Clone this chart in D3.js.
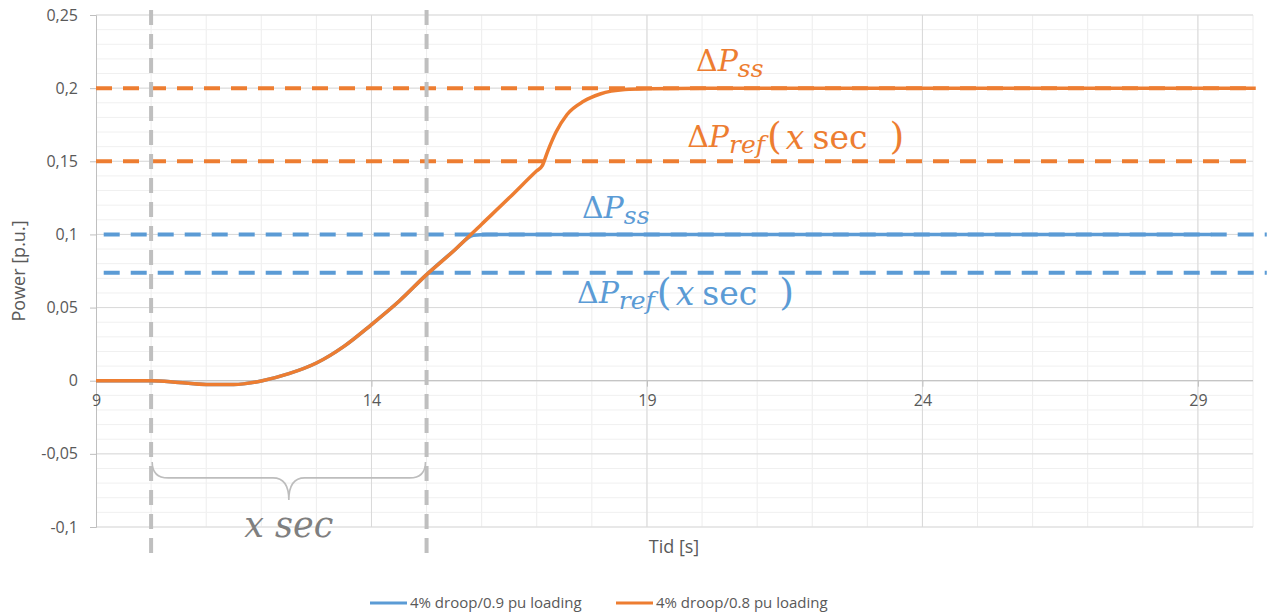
<!DOCTYPE html>
<html>
<head>
<meta charset="utf-8">
<script src="https://cdn.jsdelivr.net/npm/d3@7"></script>
<style>
  html, body { margin: 0; padding: 0; background: #fff; }
  svg { display: block; }
  text { font-family: "Open Sans", "Noto Sans", sans-serif; }
  .math { font-family: "DejaVu Serif", serif; }
</style>
</head>
<body>
<svg id="chart" width="1269" height="615"></svg>
<script>
// ---------------- DATA ----------------
const xTicks = [9, 14, 19, 24, 29];
const yTicks = [-0.1, -0.05, 0, 0.05, 0.1, 0.15, 0.2, 0.25];
const yTickLabels = ["-0,1", "-0,05", "0", "0,05", "0,1", "0,15", "0,2", "0,25"];

const seriesNames = ["4% droop/0.9 pu loading", "4% droop/0.8 pu loading"];
const seriesColors = ["#5B9BD5", "#ED7D31"];

// 4% droop / 0.8 pu loading (orange)
const tOrange = [9, 10, 10.5, 11, 11.5, 12, 12.5, 13, 13.5, 14, 14.5, 15, 15.5, 16, 16.5, 17, 17.1, 17.2, 17.35, 17.55, 17.85, 18.15, 18.6, 19.05, 20, 25, 30.05];
const pOrange = [0, 0, -0.0012, -0.0026, -0.0026, -0.0002, 0.0048, 0.0121, 0.0235, 0.0384, 0.0543, 0.0725, 0.089, 0.107, 0.125, 0.1435, 0.147, 0.157, 0.17, 0.182, 0.191, 0.196, 0.199, 0.1996, 0.2, 0.2, 0.2];

// 4% droop / 0.9 pu loading (blue)
const tBlue = [9, 10, 10.5, 11, 11.5, 12, 12.5, 13, 13.5, 14, 14.5, 15, 15.5, 15.85, 16.1, 20, 25, 29.25];
const pBlue = [0, 0, -0.0012, -0.0026, -0.0026, -0.0002, 0.0048, 0.0121, 0.0235, 0.0384, 0.0543, 0.0725, 0.089, 0.0995, 0.1, 0.1, 0.1, 0.1];

// dashed reference levels
const refLevels = [0.2, 0.15, 0.1, 0.0738];
const refSeries = [1, 1, 0, 0];
const refStart = [9, 9, 9.14, 9.14];
const refEnd = [30, 30, 30.25, 30.25];

// vertical markers (x sec window)
const markerTimes = [10, 15];
const markerSpan = [-0.1205, 0.2534];

// annotations
const annoSeries = [1, 1, 0, 0];
const annoSub = ["ss", "ref", "ss", "ref"];
const annoT = [19.89, 19.73, 17.82, 17.73];
const annoP = [0.2116, 0.1596, 0.111, 0.0534];

// brace
const braceT = [10.02, 14.98];
const braceP = [-0.0555, -0.0664, -0.0815];
const braceLabel = "x sec";
const braceLabelP = -0.1068;

// ---------------- CHART ----------------
const svg = d3.select("#chart");
const x = d3.scaleLinear().domain([9, 30]).range([96, 1253]);
const y = d3.scaleLinear().domain([-0.1, 0.25]).range([527, 15]);

// minor gridlines
const g = svg.append("g");
g.selectAll("line.vmin").data(d3.range(10, 31)).enter().append("line")
  .attr("x1", d => x(d)).attr("x2", d => x(d)).attr("y1", y(0.25)).attr("y2", y(-0.1))
  .attr("stroke", "#EDEDED").attr("stroke-width", 1);
g.selectAll("line.hmin").data(d3.range(-10, 26).map(v => v / 100)).enter().append("line")
  .attr("x1", x(9)).attr("x2", x(30)).attr("y1", d => y(d)).attr("y2", d => y(d))
  .attr("stroke", "#F0F0F0").attr("stroke-width", 1);
// major gridlines
g.selectAll("line.vmaj").data(xTicks.slice(1)).enter().append("line")
  .attr("x1", d => x(d)).attr("x2", d => x(d)).attr("y1", y(0.25)).attr("y2", y(-0.1))
  .attr("stroke", "#D9D9D9").attr("stroke-width", 1);
g.selectAll("line.hmaj").data(yTicks).enter().append("line")
  .attr("x1", x(9)).attr("x2", x(30)).attr("y1", d => y(d)).attr("y2", d => y(d))
  .attr("stroke", "#D9D9D9").attr("stroke-width", 1);

// axes
const yAxis = d3.axisLeft(y).tickValues(yTicks).tickFormat((d, i) => yTickLabels[i]).tickSize(6).tickPadding(12);
const ya = svg.append("g").attr("transform", `translate(${x(9)},0)`).call(yAxis);
ya.select(".domain").attr("stroke", "#BFBFBF");
ya.selectAll(".tick line").attr("stroke", "#BFBFBF");
ya.selectAll(".tick text").attr("fill", "#595959").style("font-size", "16px").style("font-family", "Open Sans");

const xAxis = d3.axisBottom(x).tickValues(xTicks).tickFormat(d3.format("d")).tickSize(6).tickPadding(8);
const xa = svg.append("g").attr("transform", `translate(0,${y(0)})`).call(xAxis);
xa.select(".domain").attr("stroke", "#BFBFBF").attr("d", `M${x(9)},0H${x(30)}`);
xa.selectAll(".tick line").attr("stroke", "#BFBFBF");
xa.selectAll(".tick text").attr("fill", "#595959").style("font-size", "16px").style("font-family", "Open Sans");

// axis titles
svg.append("text").attr("x", 674).attr("y", 553).attr("text-anchor", "middle")
  .attr("fill", "#595959").style("font-size", "18px").text("Tid [s]");
svg.append("text").attr("transform", "translate(25,271) rotate(-90)").attr("text-anchor", "middle")
  .attr("fill", "#595959").style("font-size", "18px").text("Power [p.u.]");

// dashed reference lines
svg.selectAll("line.ref").data(refLevels).enter().append("line")
  .attr("x1", (d, i) => x(refStart[i])).attr("x2", (d, i) => x(refEnd[i]))
  .attr("y1", d => y(d)).attr("y2", d => y(d))
  .attr("stroke", (d, i) => seriesColors[refSeries[i]])
  .attr("stroke-width", 4).attr("stroke-dasharray", "16,11");

// vertical gray dashed markers
svg.selectAll("line.mark").data(markerTimes).enter().append("line")
  .attr("x1", d => x(d)).attr("x2", d => x(d))
  .attr("y1", y(markerSpan[1])).attr("y2", y(markerSpan[0]))
  .attr("stroke", "#BFBFBF").attr("stroke-width", 4).attr("stroke-dasharray", "15,9");

// series lines
const line = d3.line().x(d => x(d[0])).y(d => y(d[1])).curve(d3.curveMonotoneX);
svg.append("path").datum(tBlue.map((t, i) => [t, pBlue[i]]))
  .attr("d", line).attr("fill", "none").attr("stroke", seriesColors[0]).attr("stroke-width", 3.5);
svg.append("path").datum(tOrange.map((t, i) => [t, pOrange[i]]))
  .attr("d", line).attr("fill", "none").attr("stroke", seriesColors[1]).attr("stroke-width", 3.5);

// brace
{
  const x0 = x(braceT[0]), x1 = x(braceT[1]), xm = (x0 + x1) / 2;
  const yt = y(braceP[0]), ym = y(braceP[1]), yb = y(braceP[2]);
  const r = ym - yt;
  const p = d3.path();
  p.moveTo(x0, yt);
  p.quadraticCurveTo(x0, ym, x0 + r, ym);
  p.lineTo(xm - r, ym);
  p.quadraticCurveTo(xm, ym, xm, yb);
  p.quadraticCurveTo(xm, ym, xm + r, ym);
  p.lineTo(x1 - r, ym);
  p.quadraticCurveTo(x1, ym, x1, yt);
  svg.append("path").attr("d", p.toString()).attr("fill", "none")
    .attr("stroke", "#BDBDBD").attr("stroke-width", 1.6);
  svg.append("text").attr("class", "math").attr("x", xm).attr("y", y(braceLabelP))
    .attr("text-anchor", "middle").attr("fill", "#7F7F7F")
    .style("font-size", "35px").style("font-style", "italic").text(braceLabel);
}

// annotations
annoT.forEach((t, i) => {
  const col = seriesColors[annoSeries[i]];
  const tx = svg.append("text").attr("class", "math").attr("x", x(t)).attr("y", y(annoP[i]))
    .attr("fill", col).style("font-size", "30px");
  tx.append("tspan").text("Δ");
  tx.append("tspan").style("font-style", "italic").text("P");
  tx.append("tspan").attr("dy", 6).style("font-style", "italic").style("font-size", "25px").text(annoSub[i]);
  if (annoSub[i] === "ref") {
    tx.append("tspan").attr("dy", -4).attr("dx", 2).style("font-size", "38px").style("font-weight", "300").text("(");
    tx.append("tspan").attr("dx", 4).style("font-size", "33px").style("font-style", "italic").text("x");
    tx.append("tspan").attr("dx", 8).style("font-size", "33px").text("sec");
    tx.append("tspan").attr("dx", 22).style("font-size", "38px").text(")");
  }
});

// legend
const legX = [370, 616];
seriesNames.forEach((n, i) => {
  svg.append("line").attr("x1", legX[i]).attr("x2", legX[i] + 37).attr("y1", 603).attr("y2", 603)
    .attr("stroke", seriesColors[i]).attr("stroke-width", 3);
  svg.append("text").attr("x", legX[i] + 40).attr("y", 608).attr("fill", "#595959")
    .style("font-size", "15px").text(n);
});
</script>
</body>
</html>
